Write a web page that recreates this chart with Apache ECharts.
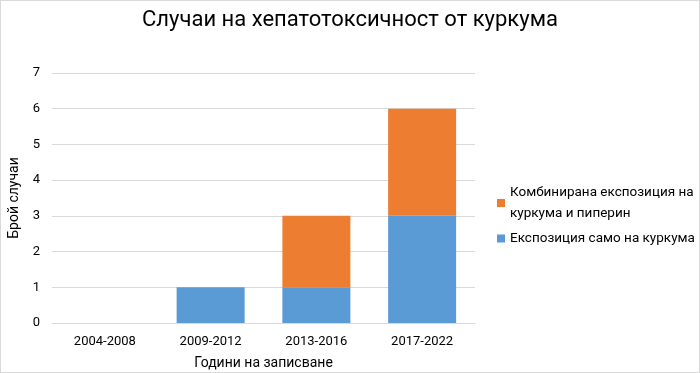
<!DOCTYPE html>
<html>
<head>
<meta charset="utf-8">
<script src="https://cdn.jsdelivr.net/npm/echarts@6/dist/echarts.min.js"></script>
<style>
html,body{margin:0;padding:0;background:#fff;}
#chart{width:698px;height:371px;border:1px solid #d9d9d9;}
</style>
</head>
<body>
<div id="chart"></div>
<script>
var periods = ['2004-2008', '2009-2012', '2013-2016', '2017-2022'];
var onlyTurmeric = [0, 1, 1, 3];     // Експозиция само на куркума
var combined = [0, 0, 2, 3];         // Комбинирана експозиция на куркума и пиперин
var yTicks = [0, 1, 2, 3, 4, 5, 6, 7];

var font = 'Roboto, "Noto Sans", sans-serif';
var chart = echarts.init(document.getElementById('chart'));

chart.setOption({
	animation: false,
	textStyle: { fontFamily: font },
	title: {
		text: 'Случаи на хепатотоксичност от куркума',
		left: 'center',
		top: 3,
		textStyle: { fontFamily: font, fontSize: 22, fontWeight: 'normal', color: '#000' }
	},
	legend: {
		orient: 'vertical',
		left: 491,
		top: 176,
		itemWidth: 8,
		itemHeight: 8,
		itemGap: 4,
		icon: 'rect',
		data: ['Комбинирана експозиция на\nкуркума и пиперин', 'Експозиция само на куркума'],
		textStyle: { fontFamily: font, fontSize: 13.5, color: '#000', lineHeight: 21 }
	},
	grid: { left: 51, right: 224, top: 72, bottom: 49, outerBoundsMode: 'none' },
	xAxis: {
		type: 'category',
		data: periods,
		name: 'Години на записване',
		nameLocation: 'middle',
		nameGap: 33,
		nameTextStyle: { fontFamily: font, fontSize: 14, color: '#000' },
		axisLine: { lineStyle: { color: '#d9d9d9' } },
		axisTick: { show: false },
		axisLabel: { fontFamily: font, fontSize: 13, color: '#000', margin: 12 }
	},
	yAxis: {
		type: 'value',
		min: yTicks[0],
		max: yTicks[yTicks.length - 1],
		interval: 1,
		name: 'Брой случаи',
		nameLocation: 'middle',
		nameGap: 30,
		nameTextStyle: { fontFamily: font, fontSize: 14, color: '#000' },
		axisLine: { show: false },
		axisTick: { show: false },
		axisLabel: { fontFamily: font, fontSize: 13, color: '#000', margin: 12 },
		splitLine: { lineStyle: { color: '#d9d9d9', width: 1 } }
	},
	series: [
		{
			name: 'Експозиция само на куркума',
			type: 'bar',
			stack: 'total',
			barWidth: 68,
			itemStyle: { color: '#5b9bd5' },
			data: onlyTurmeric
		},
		{
			name: 'Комбинирана експозиция на\nкуркума и пиперин',
			type: 'bar',
			stack: 'total',
			barWidth: 68,
			itemStyle: { color: '#ed7d31' },
			data: combined
		}
	]
});
</script>
</body>
</html>
